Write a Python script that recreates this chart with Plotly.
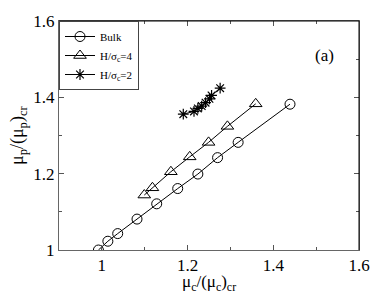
import plotly.graph_objects as go

bulk_x = [0.992, 1.014, 1.037, 1.082, 1.128, 1.177, 1.224, 1.270, 1.318, 1.439]
bulk_y = [1.000, 1.023, 1.043, 1.081, 1.121, 1.161, 1.199, 1.242, 1.282, 1.382]

h4_x = [1.099, 1.118, 1.161, 1.205, 1.249, 1.293, 1.359]
h4_y = [1.144, 1.163, 1.205, 1.244, 1.282, 1.324, 1.383]

h2_x = [1.190, 1.215, 1.224, 1.233, 1.242, 1.251, 1.256, 1.276]
h2_y = [1.356, 1.363, 1.371, 1.377, 1.386, 1.396, 1.405, 1.424]

tick_vals = [1, 1.2, 1.4, 1.6]
tick_text = ["1", "1.2", "1.4", "1.6"]

FONT = "Liberation Serif"

fig = go.Figure()
fig.add_trace(go.Scatter(x=bulk_x, y=bulk_y, mode="lines+markers", name="Bulk",
                         line=dict(color="black", width=1),
                         marker=dict(symbol="circle-open", size=10, color="black", line=dict(width=1))))
fig.add_trace(go.Scatter(x=h4_x, y=h4_y, mode="lines+markers", name="H/σ<sub>c</sub>=4",
                         line=dict(color="black", width=1),
                         marker=dict(symbol="triangle-up-open", size=11, color="black", line=dict(width=1))))
fig.add_trace(go.Scatter(x=h2_x, y=h2_y, mode="lines+markers", name="H/σ<sub>c</sub>=2",
                         line=dict(color="black", width=1),
                         marker=dict(symbol="asterisk-open", size=9, color="black", line=dict(width=1.2))))

axis_common = dict(showgrid=False, zeroline=False, ticks="inside", ticklen=5, tickcolor="#555",
                   linecolor="#666", linewidth=1, mirror="ticks", showline=True,
                   tickfont=dict(family=FONT, size=17, color="black"),
                   minor=dict(ticks="inside", ticklen=3, dtick=0.1, tickcolor="#555"))

fig.update_xaxes(range=[0.9, 1.6], tickvals=tick_vals, ticktext=tick_text, **axis_common)
fig.update_yaxes(range=[1.0, 1.6], tickvals=tick_vals, ticktext=tick_text, **axis_common)

# darker top/right frame
fig.add_shape(type="line", xref="paper", yref="paper", x0=0, x1=1, y0=1, y1=1, line=dict(color="black", width=1))
fig.add_shape(type="line", xref="paper", yref="paper", x0=1, x1=1, y0=0, y1=1, line=dict(color="black", width=1))

fig.add_annotation(x=0.923, y=0.90, xref="paper", yref="paper", text="(a)", showarrow=False,
                   font=dict(family=FONT, size=17, color="black"))

# axis titles
fig.add_annotation(x=0.5, y=-0.088, xref="paper", yref="paper", yanchor="top",
                   text="μ<sub>c</sub>/(μ<sub>c</sub>)<sub>cr</sub>", showarrow=False,
                   font=dict(family=FONT, size=17, color="black"))
fig.add_annotation(x=-0.135, y=0.5, xref="paper", yref="paper", xanchor="center",
                   text="μ<sub>p</sub>/(μ<sub>p</sub>)<sub>cr</sub>", showarrow=False, textangle=-90,
                   font=dict(family=FONT, size=18, color="black"))

fig.update_layout(width=382, height=295, margin=dict(l=59, r=14, t=14, b=45),
                  plot_bgcolor="white", paper_bgcolor="white",
                  legend=dict(x=0, y=1, xanchor="left", yanchor="top", bgcolor="white",
                              bordercolor="#444", borderwidth=1, tracegroupgap=0,
                              font=dict(family=FONT, size=11, color="black"),
                              itemwidth=30),
                  showlegend=True)

fig.write_html("out.html", config={"displayModeBar": False},
               post_script="document.body.style.margin='0';document.body.style.overflow='hidden';")
